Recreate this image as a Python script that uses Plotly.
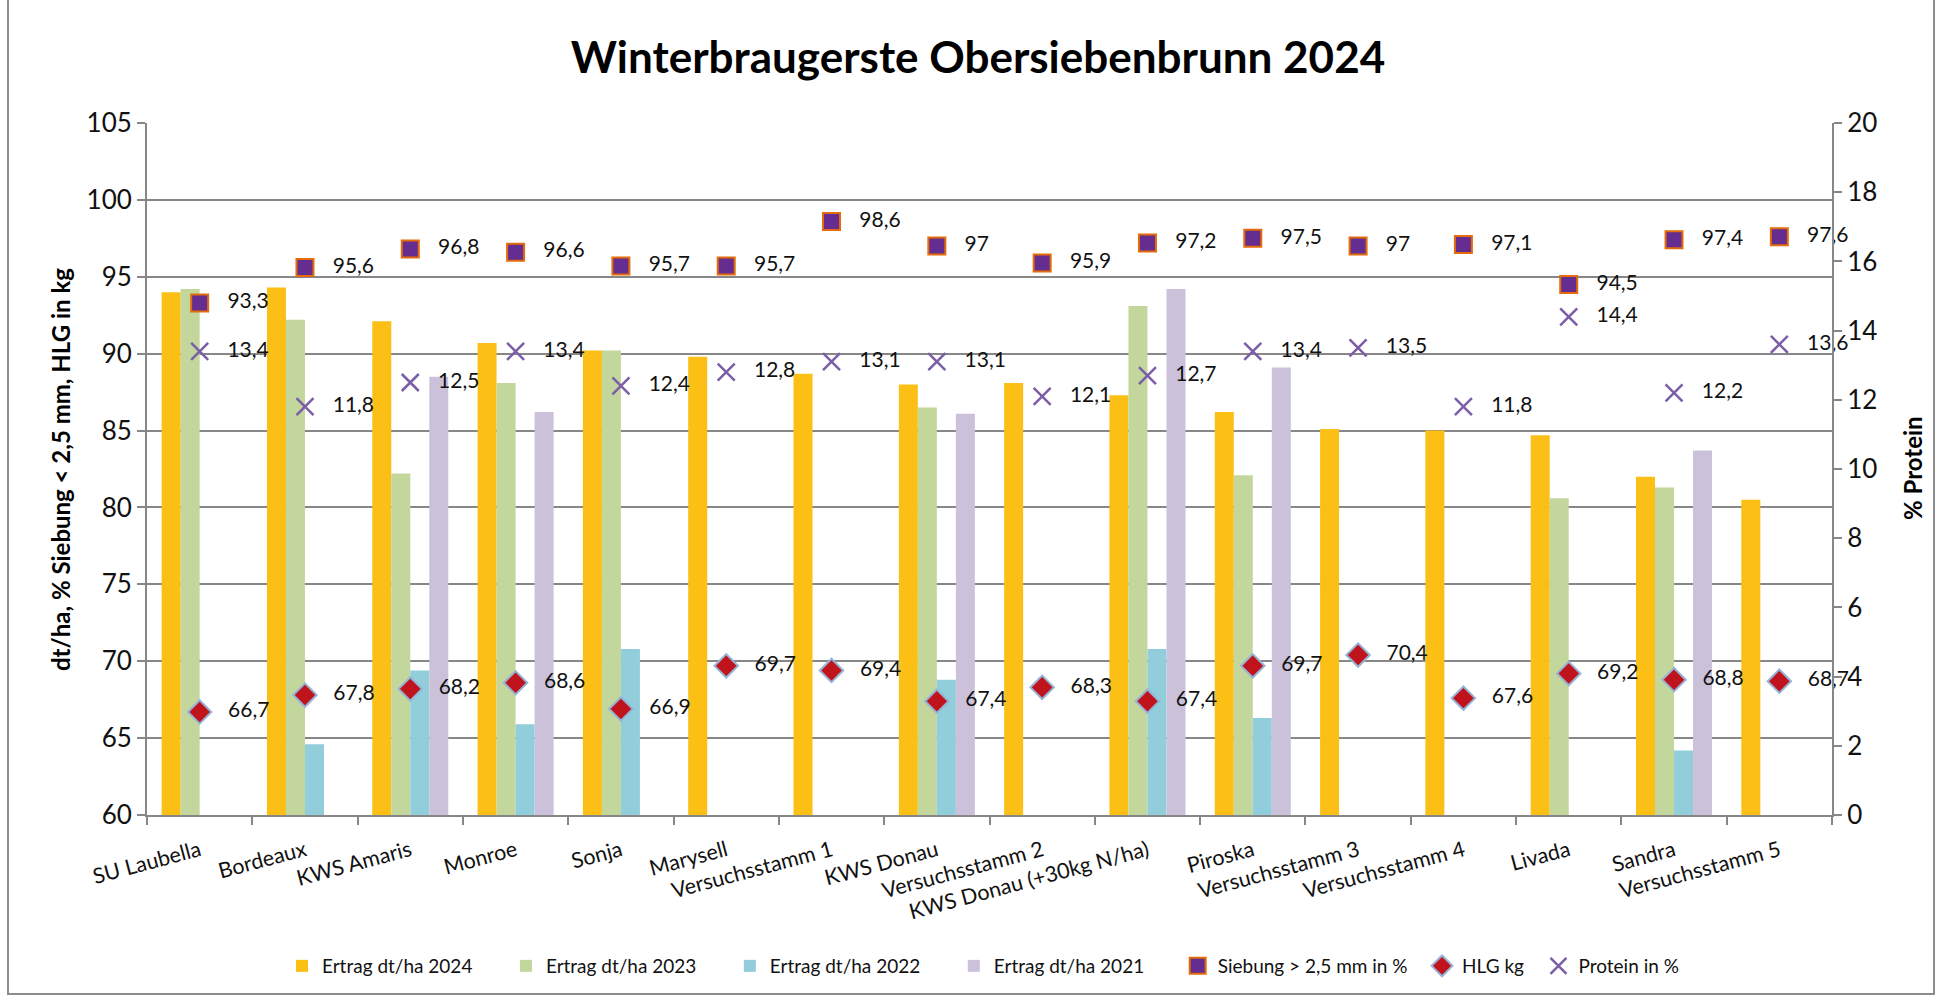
import plotly.graph_objects as go

categories = ["SU Laubella", "Bordeaux", "KWS Amaris", "Monroe", "Sonja", "Marysell",
              "Versuchsstamm 1", "KWS Donau", "Versuchsstamm 2", "KWS Donau (+30kg N/ha)",
              "Piroska", "Versuchsstamm 3", "Versuchsstamm 4", "Livada", "Sandra", "Versuchsstamm 5"]

ertrag_2024 = [94.0, 94.3, 92.1, 90.7, 90.2, 89.8, 88.7, 88.0, 88.1, 87.3, 86.2, 85.1, 85.0, 84.7, 82.0, 80.5]
ertrag_2023 = [94.2, 92.2, 82.2, 88.1, 90.2, None, None, 86.5, None, 93.1, 82.1, None, None, 80.6, 81.3, None]
ertrag_2022 = [None, 64.6, 69.4, 65.9, 70.8, None, None, 68.8, None, 70.8, 66.3, None, None, None, 64.2, None]
ertrag_2021 = [None, None, 88.5, 86.2, None, None, None, 86.1, None, 94.2, 89.1, None, None, None, 83.7, None]
siebung = [93.3, 95.6, 96.8, 96.6, 95.7, 95.7, 98.6, 97, 95.9, 97.2, 97.5, 97, 97.1, 94.5, 97.4, 97.6]
hlg = [66.7, 67.8, 68.2, 68.6, 66.9, 69.7, 69.4, 67.4, 68.3, 67.4, 69.7, 70.4, 67.6, 69.2, 68.8, 68.7]
protein = [13.4, 11.8, 12.5, 13.4, 12.4, 12.8, 13.1, 13.1, 12.1, 12.7, 13.4, 13.5, 11.8, 14.4, 12.2, 13.6]

left_ticks = [60, 65, 70, 75, 80, 85, 90, 95, 100, 105]
right_ticks = [0, 2, 4, 6, 8, 10, 12, 14, 16, 18, 20]


def lbl(vals):
    return ["   " + f"{v:g}".replace(".", ",") for v in vals]


FONT = "Lato"
GRAY = "#878787"
EN = "\u2002"
fig = go.Figure()
bar_specs = [("Ertrag dt/ha 2024", ertrag_2024, "#FBBF15"),
             ("Ertrag dt/ha 2023", ertrag_2023, "#C3D69B"),
             ("Ertrag dt/ha 2022", ertrag_2022, "#92CDDC"),
             ("Ertrag dt/ha 2021", ertrag_2021, "#CCC1DA")]
for name, vals, col in bar_specs:
    fig.add_trace(go.Bar(x=categories, y=vals, name=name + EN * 3, marker=dict(color=col, line=dict(width=0))))

fig.add_trace(go.Scatter(x=categories, y=siebung, name="Siebung > 2,5 mm in %" + EN, mode="markers+text",
                         marker=dict(symbol="square", size=17, color="#652D90",
                                     line=dict(color="#E46C0A", width=2)),
                         text=lbl(siebung), textposition="middle right", cliponaxis=False,
                         textfont=dict(size=21, color="#111111", family=FONT)))
fig.add_trace(go.Scatter(x=categories, y=hlg, name="HLG kg" + EN, mode="markers+text",
                         marker=dict(symbol="diamond", size=18, color="#C0141C",
                                     line=dict(color="#95B3D7", width=2)),
                         text=lbl(hlg), textposition="middle right", cliponaxis=False,
                         textfont=dict(size=21, color="#111111", family=FONT)))
fig.add_trace(go.Scatter(x=categories, y=protein, name="Protein in %", mode="markers+text",
                         yaxis="y2",
                         marker=dict(symbol="x-thin-open", size=17, color="#7B5EA7",
                                     line=dict(color="#7B5EA7", width=2.5)),
                         text=lbl(protein), textposition="middle right", cliponaxis=False,
                         textfont=dict(size=21, color="#111111", family=FONT)))

W, H = 1941, 1000
PL, PR, PT, PB = 147, 1832, 123, 815
L, R, T, B = PL, W - PR, PT, H - PB
pw, ph = PR - PL, PB - PT


def px(x):
    return (x - L) / pw


def py(y):
    return (PB - y) / ph


fig.update_layout(
    width=W, height=H,
    margin=dict(l=L, r=R, t=T, b=B),
    paper_bgcolor="white", plot_bgcolor="white",
    barmode="group", bargap=0.278, bargroupgap=0,
    font=dict(family=FONT, color="#111111"),
    title=dict(text="<b>Winterbraugerste Obersiebenbrunn 2024</b>", x=978 / W, xanchor="center",
               y=1 - 58 / H, yanchor="middle", font=dict(size=44, family=FONT, color="#000000")),
    xaxis=dict(type="category", range=[-0.5, len(categories) - 0.5], autorange=False,
               tickangle=-15, tickfont=dict(size=21.5, family=FONT), ticklabelstandoff=13,
               ticks="outside", tickson="boundaries", ticklen=8, tickcolor=GRAY, tickwidth=2,
               showline=True, linecolor=GRAY, linewidth=2, showgrid=False),
    yaxis=dict(range=[60, 105], tickvals=left_ticks, tickfont=dict(size=26, family=FONT),
               showgrid=True, gridcolor=GRAY, gridwidth=2, zeroline=False,
               showline=True, linecolor=GRAY, linewidth=2,
               ticks="outside", ticklen=8, tickcolor=GRAY, tickwidth=2),
    yaxis2=dict(range=[0, 20], tickvals=right_ticks, overlaying="y", side="right",
                tickfont=dict(size=26, family=FONT), showgrid=False, zeroline=False,
                showline=True, linecolor=GRAY, linewidth=2,
                ticks="outside", ticklen=8, tickcolor=GRAY, tickwidth=2),
    legend=dict(orientation="h", x=px(983), xanchor="center", y=py(966), yanchor="middle",
                font=dict(size=19, family=FONT), itemwidth=30, traceorder="normal"),
    showlegend=True,
)

fig.add_annotation(text="<b>dt/ha, % Siebung < 2,5 mm, HLG in kg</b>", textangle=-90,
                   xref="paper", yref="paper", x=px(61), y=py(470), xanchor="center", yanchor="middle",
                   showarrow=False, font=dict(size=24, family=FONT, color="#000000"))
fig.add_annotation(text="<b>% Protein</b>", textangle=-90,
                   xref="paper", yref="paper", x=px(1912), y=py(468), xanchor="center", yanchor="middle",
                   showarrow=False, font=dict(size=24, family=FONT, color="#000000"))

fig.add_shape(type="rect", xref="paper", yref="paper", x0=px(8), x1=px(1934), y0=py(994), y1=py(-20),
              line=dict(color="#8C8C8C", width=2), fillcolor="rgba(0,0,0,0)", layer="below")

fig.write_html("out.html", config={"displayModeBar": False},
               post_script="document.body.style.margin='0px';")
